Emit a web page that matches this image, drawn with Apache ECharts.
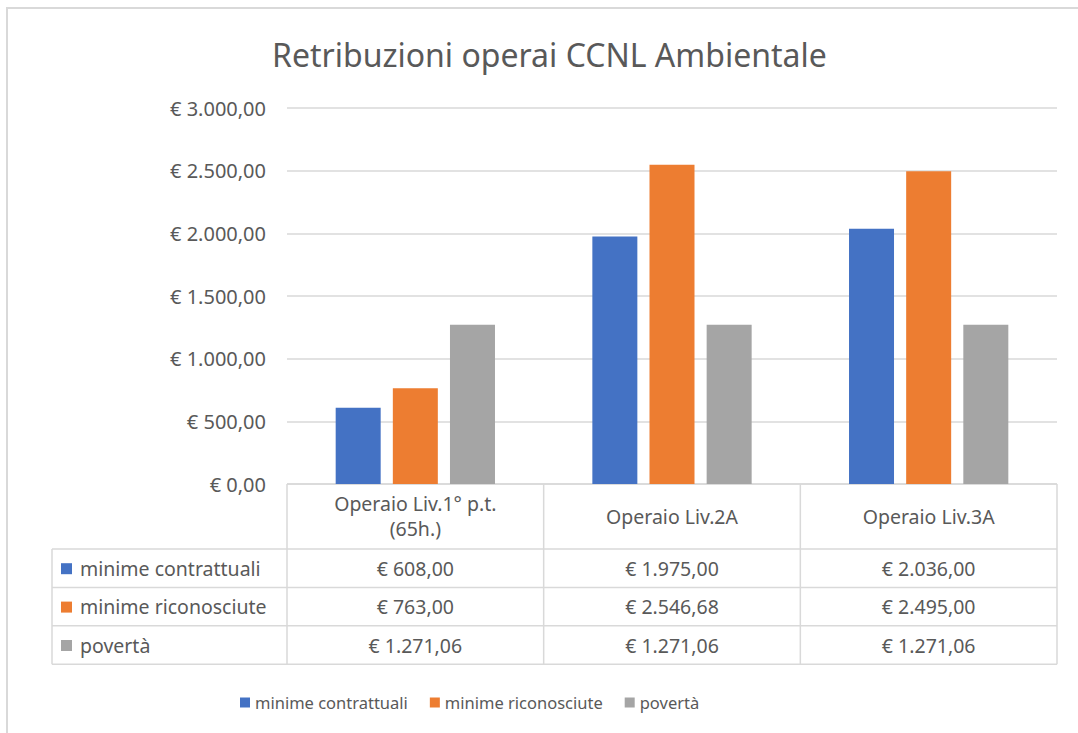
<!DOCTYPE html>
<html>
<head>
<meta charset="utf-8">
<title>Retribuzioni operai CCNL Ambientale</title>
<script src="https://cdn.jsdelivr.net/npm/echarts@6/dist/echarts.min.js"></script>
<style>
  html, body { margin: 0; padding: 0; background: #fff; }
  #chart { width: 1078px; height: 733px; }
</style>
</head>
<body>
<div id="chart"></div>
<script>
// categorie (intestazioni della tabella dati)
const categories = ['Operaio Liv.1° p.t.\n(65h.)', 'Operaio Liv.2A', 'Operaio Liv.3A'];
// serie
const seriesNames = ['minime contrattuali', 'minime riconosciute', 'povertà'];
const minimeContrattuali = [608.00, 1975.00, 2036.00];
const minimeRiconosciute = [763.00, 2546.68, 2495.00];
const poverta = [1271.06, 1271.06, 1271.06];
const colors = ['#4472C4', '#ED7D31', '#A5A5A5'];

const TEXT = '#595959';
const LINE = '#D9D9D9';
const FONT = '"Noto Sans", sans-serif';
const TABLE_FS = 19.5;

// area del grafico
const plotLeft = 287, plotRight = 1057, plotTop = 108, plotBottom = 484;
const tableLeft = 52, headerBottom = 549, rowH = 38.4;

// formato "€ 1.271,06"
const euro = v => {
    const parts = Number(v).toFixed(2).split('.');
    const int = parts[0].replace(/\B(?=(\d{3})+(?!\d))/g, '.');
    return '€ ' + int + ',' + parts[1];
};

const chart = echarts.init(document.getElementById('chart'), null, { renderer: 'svg' });

const allData = [minimeContrattuali, minimeRiconosciute, poverta];

chart.setOption({
    animation: false,
    backgroundColor: '#fff',
    textStyle: { fontFamily: FONT, color: TEXT },
    title: {
        text: 'Retribuzioni operai CCNL Ambientale',
        left: 267,
        top: 33,
        textStyle: { fontFamily: FONT, fontSize: 32, fontWeight: 'normal', color: TEXT }
    },
    legend: {
        left: 235,
        top: 689,
        icon: 'rect',
        itemWidth: 10,
        itemHeight: 10,
        itemGap: 22,
        textStyle: { fontFamily: FONT, fontSize: 16.5, color: TEXT, padding: [0, 0, 0, 0] },
        data: seriesNames
    },
    grid: {
        left: plotLeft,
        right: 1078 - plotRight,
        top: plotTop,
        bottom: 733 - plotBottom,
        containLabel: false
    },
    xAxis: {
        type: 'category',
        data: categories,
        axisLine: { show: false },
        axisTick: { show: false },
        axisLabel: {
            margin: 32,
            verticalAlign: 'middle',
            lineHeight: 25,
            fontFamily: FONT,
            fontSize: TABLE_FS,
            color: TEXT
        }
    },
    yAxis: {
        type: 'value',
        min: 0,
        max: 3000,
        interval: 500,
        axisLine: { show: false },
        axisTick: { show: false },
        splitLine: { lineStyle: { color: LINE, width: 1.5 } },
        axisLabel: {
            margin: 21,
            fontFamily: FONT,
            fontSize: 20,
            color: TEXT,
            formatter: v => euro(v)
        }
    },
    series: seriesNames.map((name, i) => ({
        name: name,
        type: 'bar',
        data: allData[i],
        barWidth: 45,
        barGap: '27%',
        itemStyle: { color: colors[i] }
    }))
});

// tabella dati sotto il grafico
const graphic = [];
const lineStyle = { stroke: LINE, lineWidth: 1.5 };
const addLine = (x1, y1, x2, y2) => graphic.push({
    type: 'line', shape: { x1, y1, x2, y2 }, style: lineStyle, silent: true
});

const tableBottom = headerBottom + rowH * seriesNames.length;
// bordo superiore intestazione
addLine(plotLeft, plotBottom, plotRight, plotBottom);
// linee orizzontali delle righe
for (let r = 0; r <= seriesNames.length; r++) {
    const y = headerBottom + rowH * r;
    addLine(tableLeft, y, plotRight, y);
}
// linee verticali
addLine(tableLeft, headerBottom, tableLeft, tableBottom);
const colW = (plotRight - plotLeft) / categories.length;
for (let c = 0; c <= categories.length; c++) {
    const x = plotLeft + colW * c;
    addLine(x, plotBottom, x, tableBottom);
}

// etichette delle righe e valori
seriesNames.forEach((name, r) => {
    const cy = headerBottom + rowH * r + rowH / 2;
    graphic.push({
        type: 'rect', shape: { x: 61, y: cy - 5, width: 11, height: 11 },
        style: { fill: colors[r] }, silent: true
    });
    graphic.push({
        type: 'text', x: 80, y: cy,
        style: { text: name, fill: TEXT, font: TABLE_FS + 'px ' + FONT, verticalAlign: 'middle', align: 'left' },
        silent: true
    });
    allData[r].forEach((v, c) => {
        const cx = chart.convertToPixel({ xAxisIndex: 0 }, c);
        graphic.push({
            type: 'text', x: cx, y: cy,
            style: { text: euro(v), fill: TEXT, font: TABLE_FS + 'px ' + FONT, verticalAlign: 'middle', align: 'center' },
            silent: true
        });
    });
});

// cornice esterna
graphic.push({
    type: 'rect', shape: { x: 7, y: 8, width: 1100, height: 760 },
    style: { fill: null, stroke: LINE, lineWidth: 2 }, silent: true, z: 100
});

chart.setOption({ graphic: graphic });
</script>
</body>
</html>
